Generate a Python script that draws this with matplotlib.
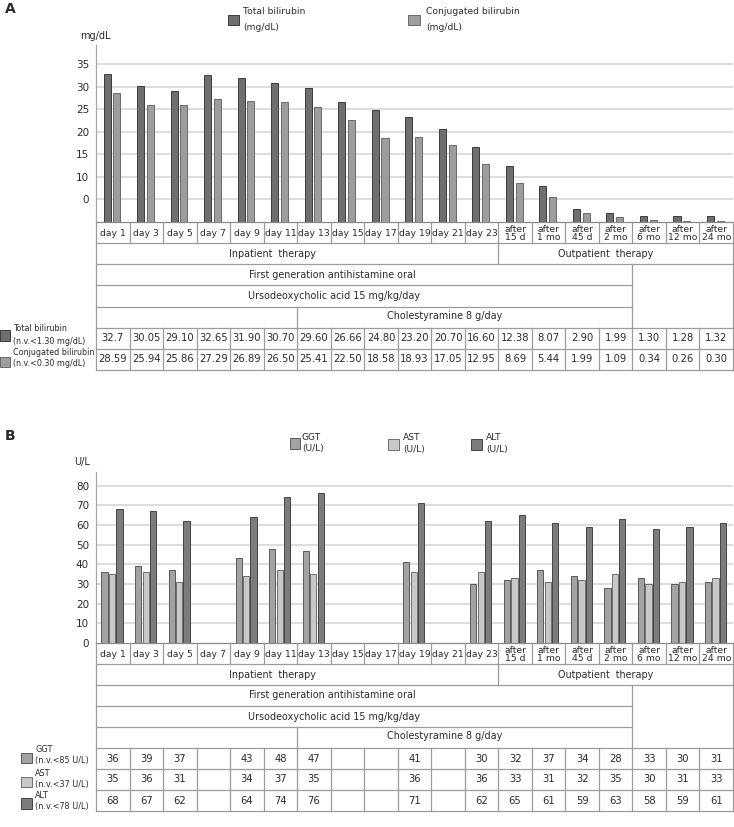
import numpy as np
import matplotlib
matplotlib.use("Agg")
import matplotlib.pyplot as plt
from matplotlib.patches import Rectangle

# figure size in pixels (dpi 100)
W, H = 734, 827

categories = ["day 1", "day 3", "day 5", "day 7", "day 9", "day 11", "day 13",
              "day 15", "day 17", "day 19", "day 21", "day 23",
              "after\n15 d", "after\n1 mo", "after\n45 d", "after\n2 mo",
              "after\n6 mo", "after\n12 mo", "after\n24 mo"]

# panel A - bilirubin (mg/dL)
total_bili = [32.7, 30.05, 29.10, 32.65, 31.90, 30.70, 29.60, 26.66, 24.80,
              23.20, 20.70, 16.60, 12.38, 8.07, 2.90, 1.99, 1.30, 1.28, 1.32]
conj_bili = [28.59, 25.94, 25.86, 27.29, 26.89, 26.50, 25.41, 22.50, 18.58,
             18.93, 17.05, 12.95, 8.69, 5.44, 1.99, 1.09, 0.34, 0.26, 0.30]
total_bili_txt = ["32.7", "30.05", "29.10", "32.65", "31.90", "30.70", "29.60",
                  "26.66", "24.80", "23.20", "20.70", "16.60", "12.38", "8.07",
                  "2.90", "1.99", "1.30", "1.28", "1.32"]
conj_bili_txt = ["28.59", "25.94", "25.86", "27.29", "26.89", "26.50", "25.41",
                 "22.50", "18.58", "18.93", "17.05", "12.95", "8.69", "5.44",
                 "1.99", "1.09", "0.34", "0.26", "0.30"]
yticks_a = [5, 10, 15, 20, 25, 30, 35]
yticklabels_a = ["0", "10", "15", "20", "25", "30", "35"]

# panel B - enzymes (U/L), None = not measured
ggt = [36, 39, 37, None, 43, 48, 47, None, None, 41, None, 30, 32, 37, 34, 28, 33, 30, 31]
ast = [35, 36, 31, None, 34, 37, 35, None, None, 36, None, 36, 33, 31, 32, 35, 30, 31, 33]
alt = [68, 67, 62, None, 64, 74, 76, None, None, 71, None, 62, 65, 61, 59, 63, 58, 59, 61]
yticks_b = [0, 10, 20, 30, 40, 50, 60, 70, 80]

# treatment rows: (text, first col, last col + 1)
therapy_spans = [("Inpatient  therapy", 0, 12), ("Outpatient  therapy", 12, 19)]
antihist_span = ("First generation antihistamine oral", 0, 16)
urso_span = ("Ursodeoxycholic acid 15 mg/kg/day", 0, 16)
chol_span = ("Cholestyramine 8 g/day", 6, 16)

DARK = "#6f6f6f"
LIGHT = "#9d9d9d"
GGT_C = "#a2a2a2"
AST_C = "#c8c8c8"
ALT_C = "#7c7c7c"
GRID = "#dadada"
LINE = "#9c9c9c"
TXT = "#2a2a2a"

plt.rcParams["font.family"] = ["DejaVu Sans"]

fig = plt.figure(figsize=(W / 100, H / 100), dpi=100)
fig.patch.set_facecolor("white")


def rect_px(left, top, right, bottom):
    return [left / W, 1 - bottom / H, (right - left) / W, (bottom - top) / H]


def bar_panel(rect, series, ylim, yticks, yticklabels):
    ax = fig.add_axes(rect)
    n = len(categories)
    for vals, color, edge, off, width in series:
        idx = [i for i, v in enumerate(vals) if v is not None]
        hts = [vals[i] for i in idx]
        ax.bar(np.array(idx) + off, hts, width, color=color, edgecolor=edge,
               linewidth=0.7, zorder=3)
    ax.set_xlim(0, n)
    ax.set_ylim(*ylim)
    ax.set_xticks([])
    ax.set_yticks(yticks)
    ax.set_yticklabels(yticklabels, fontsize=7.5, color=TXT)
    ax.tick_params(axis="y", length=0, pad=5)
    for g in yticks:
        if g > 0:
            ax.axhline(g, color=GRID, lw=1.3, zorder=1)
    for s in ["top", "right", "bottom"]:
        ax.spines[s].set_visible(False)
    ax.spines["left"].set_color("#a8a8a8")
    ax.spines["left"].set_linewidth(0.9)
    return ax


def draw_table(rect, value_rows):
    n = len(categories)
    nrows = 5 + len(value_rows)
    ax = fig.add_axes(rect)
    ax.set_xlim(0, n)
    ax.set_ylim(nrows, 0)
    ax.axis("off")

    def hline(y, x0=0, x1=n, color=LINE):
        ax.plot([x0, x1], [y, y], color=color, lw=0.9, clip_on=False)

    def vline(x, y0, y1):
        ax.plot([x, x], [y0, y1], color=LINE, lw=0.9, clip_on=False)

    hline(0, color="#888888")
    for y in [1, 2] + list(range(5, nrows + 1)):
        hline(y)
    hline(3, 0, antihist_span[2])
    hline(4, 0, antihist_span[2])
    vline(0, 0, nrows)
    vline(n, 0, nrows)
    for i in range(1, n):
        vline(i, 0, 1)
        vline(i, 5, nrows)
    vline(therapy_spans[1][1], 1, 2)
    vline(antihist_span[2], 2, 5)
    vline(chol_span[1], 4, 5)

    for i, c in enumerate(categories):
        ax.text(i + 0.5, 0.54, c, ha="center", va="center", fontsize=6.7,
                linespacing=0.8, color=TXT)

    fs = 6.9
    ax.text(5.25, 1.5, therapy_spans[0][0], ha="center", va="center", fontsize=fs, color=TXT)
    ax.text(15.2, 1.5, therapy_spans[1][0], ha="center", va="center", fontsize=fs, color=TXT)
    ax.text(7.05, 2.5, antihist_span[0], ha="center", va="center", fontsize=fs, color=TXT)
    ax.text(7.1, 3.5, urso_span[0], ha="center", va="center", fontsize=fs, color=TXT)
    ax.text(10.4, 4.45, chol_span[0], ha="center", va="center", fontsize=fs, color=TXT)

    for r, row in enumerate(value_rows):
        for i, t in enumerate(row):
            if t is None:
                continue
            ax.text(i + 0.5, 5.5 + r, str(t), ha="center", va="center",
                    fontsize=7.2, color=TXT)
    return ax


# ---- panel A ----
bar_panel(rect_px(96, 45, 733, 222),
          [(total_bili, DARK, "#3c3c3c", 0.33, 0.21),
           (conj_bili, LIGHT, "#6a6a6a", 0.62, 0.21)],
          (0, 39.2), yticks_a, yticklabels_a)
draw_table(rect_px(96, 222, 733, 370), [total_bili_txt, conj_bili_txt])

# ---- panel B ----
bar_panel(rect_px(96, 472, 733, 643),
          [(ggt, GGT_C, "#5a5a5a", 0.255, 0.185),
           (ast, AST_C, "#6e6e6e", 0.48, 0.185),
           (alt, ALT_C, "#444444", 0.70, 0.185)],
          (0, 86.9), yticks_b, [str(t) for t in yticks_b])
draw_table(rect_px(96, 643, 733, 811), [ggt, ast, alt])

# ---- overlay for legends and labels (pixel coords) ----
ov = fig.add_axes([0, 0, 1, 1], zorder=-1)
ov.set_xlim(0, W)
ov.set_ylim(H, 0)
ov.axis("off")


def key(x, y, w, h, color, edge):
    ov.add_patch(Rectangle((x, y), w, h, facecolor=color, edgecolor=edge, lw=0.7))


def lab(x, y, s, fs, **kw):
    ov.text(x, y, s, fontsize=fs, va="center", ha="left", color=TXT, **kw)


lab(5, 9, "A", 10, fontweight="bold")
lab(5, 436, "B", 10, fontweight="bold")
ov.text(95, 36, "mg/dL", fontsize=7, ha="center", va="center", color=TXT)
ov.text(82, 462, "U/L", fontsize=7, ha="center", va="center", color=TXT)

# legend A
key(228, 15, 11, 10, DARK, "#3c3c3c")
lab(243, 11.5, "Total bilirubin", 6.6)
lab(243, 28, "(mg/dL)", 6.6)
key(408, 14.5, 12, 10.5, LIGHT, "#6a6a6a")
lab(426, 11.5, "Conjugated bilirubin", 6.6)
lab(426, 27, "(mg/dL)", 6.6)

# legend B
key(290, 438, 10, 11, GGT_C, "#5a5a5a")
lab(302, 437, "GGT", 6.6)
lab(302, 449, "(U/L)", 6.6)
key(388, 438.5, 11, 11.5, AST_C, "#6e6e6e")
lab(403, 437, "AST", 6.6)
lab(403, 449.5, "(U/L)", 6.6)
key(471, 438.5, 11, 11, ALT_C, "#444444")
lab(486, 437, "ALT", 6.6)
lab(486, 449.5, "(U/L)", 6.6)

# row labels A
key(0, 330, 10, 11, DARK, "#3c3c3c")
lab(13, 328.5, "Total bilirubin", 5.8)
lab(13, 341, "(n.v.<1.30 mg/dL)", 5.8)
key(0, 356.5, 10, 10.5, LIGHT, "#6a6a6a")
lab(13, 352.5, "Conjugated bilirubin", 5.8)
lab(13, 364, "(n.v.<0.30 mg/dL)", 5.8)

# row labels B
key(21, 752.5, 11, 10.5, GGT_C, "#5a5a5a")
lab(35, 749.5, "GGT", 5.9)
lab(35, 761, "(n.v.<85 U/L)", 5.9)
key(21, 776.5, 11, 10.5, AST_C, "#6e6e6e")
lab(35, 773, "AST", 5.9)
lab(35, 784.5, "(n.v.<37 U/L)", 5.9)
key(21, 798, 11, 10.5, ALT_C, "#444444")
lab(35, 795, "ALT", 5.9)
lab(35, 807, "(n.v.<78 U/L)", 5.9)

fig.savefig("out.png", dpi=100, facecolor="white")
